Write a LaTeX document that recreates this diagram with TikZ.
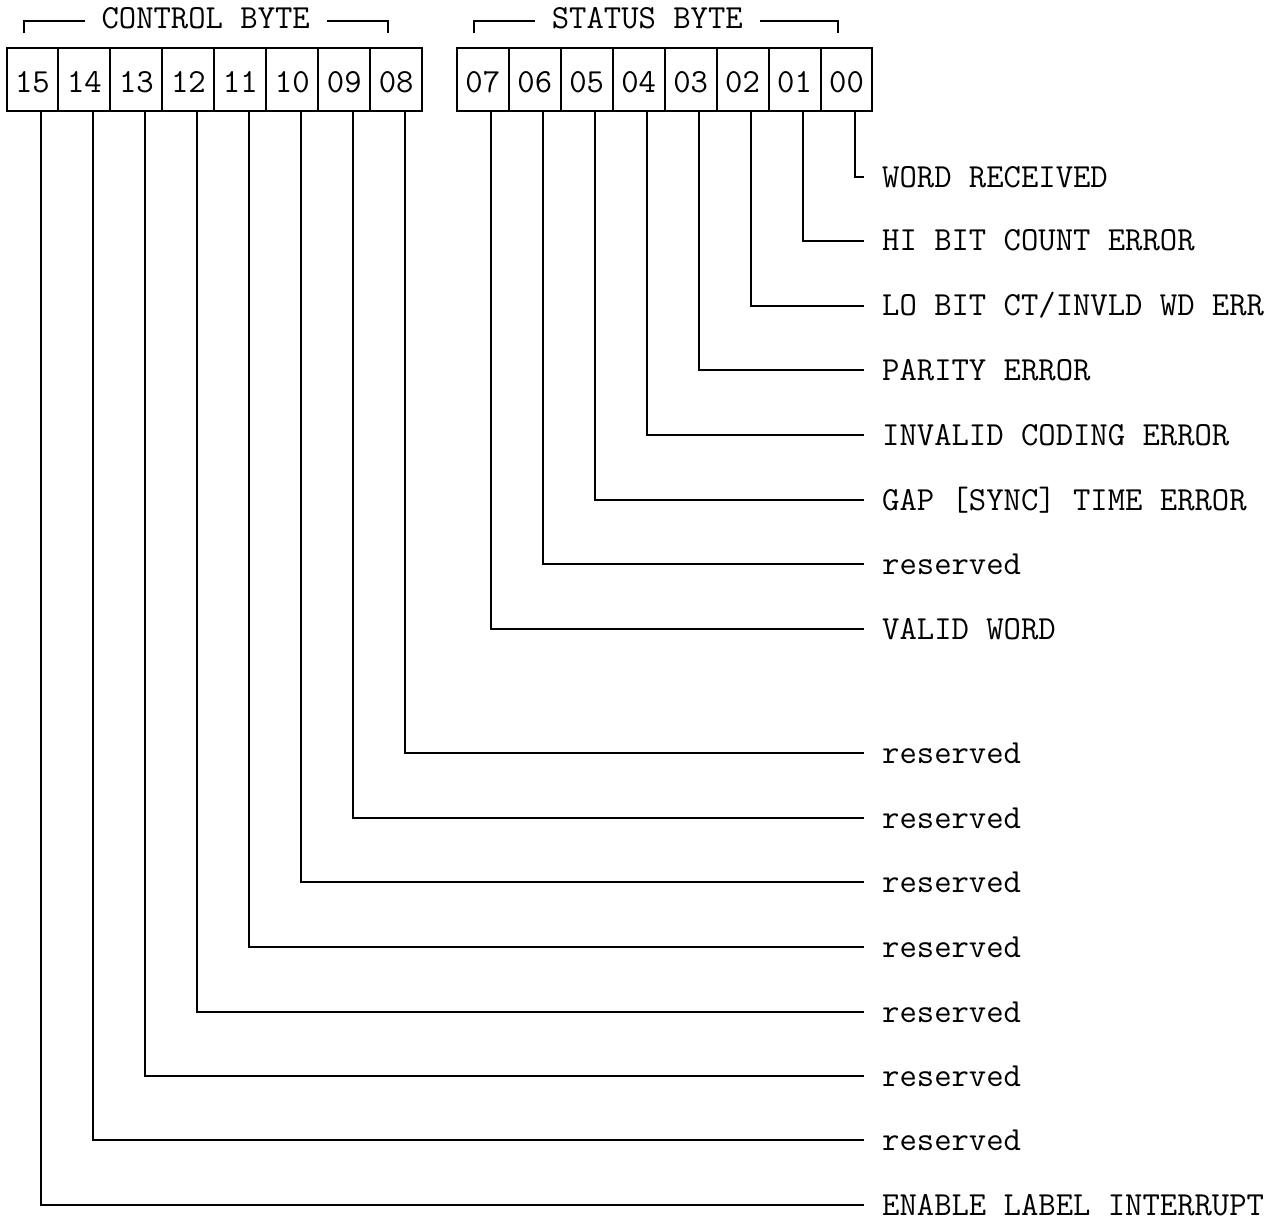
\documentclass[tikz,border=0pt]{standalone}
\usepackage{fontspec}
\newcommand{\dmfont}{\ttfamily\fontsize{33.7}{36}\selectfont}
\begin{document}
\begin{tikzpicture}[x=1pt,y=-1pt,line width=2pt,
  cell/.style={draw, minimum width=51.96pt, minimum height=63.3pt, inner sep=0pt, outer sep=0pt, text height=27.2pt, text depth=0pt, font=\dmfont},
  lbl/.style={anchor=base west, inner sep=0pt, font=\dmfont},
  ttl/.style={anchor=base, inner sep=0pt, font=\dmfont},
  wire/.style={line width=2pt}]
\useasboundingbox (0,0) rectangle (1269,1222);

% byte boxes
\foreach \b [count=\i from 0] in {15,14,13,12,11,10,09,08}
  \node[cell] (b\b) at ({6.5+51.96*(\i+0.5)},79.35) {\b};
\foreach \b [count=\i from 0] in {07,06,05,04,03,02,01,00}
  \node[cell] (b\b) at ({456.8+51.96*(\i+0.5)},79.35) {\b};

% titles
\node[ttl] (ctl) at (205.7,28.8) {CONTROL BYTE};
\node[ttl] (sts) at (647.3,28.8) {STATUS BYTE};
\coordinate (ca) at (23.8,33.5);  \coordinate (cb) at (84.5,20.7);
\coordinate (cc) at (327,20.7);   \coordinate (cd) at (387.5,33.5);
\coordinate (sa) at (474.1,33.5); \coordinate (sb) at (534.8,20.7);
\coordinate (sc) at (759.9,20.7); \coordinate (sd) at (837.9,33.5);
\draw[wire] (ca) |- (cb);
\draw[wire] (cc) -| (cd);
\draw[wire] (sa) |- (sb);
\draw[wire] (sc) -| (sd);

% line ends
\foreach \b/\y in {00/177.3,01/240.7,02/305.7,03/370,04/435,05/500,06/564,07/629.3,
                   08/753.3,09/817.7,10/882.3,11/946.7,12/1011.7,13/1076,14/1140,15/1205}
  \coordinate (e\b) at (863.9,\y);

% labels
\node[lbl] (l00) at (881.2,187.6) {WORD RECEIVED};
\node[lbl] (l01) at (881.2,251) {HI BIT COUNT ERROR};
\node[lbl] (l02) at (881.2,316) {LO BIT CT/INVLD WD ERR};
\node[lbl] (l03) at (881.2,380.3) {PARITY ERROR};
\node[lbl] (l04) at (881.2,445.3) {INVALID CODING ERROR};
\node[lbl] (l05) at (881.2,510.3) {GAP [SYNC] TIME ERROR};
\node[lbl] (l06) at (881.2,574.3) {reserved};
\node[lbl] (l07) at (881.2,639.6) {VALID WORD};
\node[lbl] (l08) at (881.2,763.6) {reserved};
\node[lbl] (l09) at (881.2,828) {reserved};
\node[lbl] (l10) at (881.2,892.6) {reserved};
\node[lbl] (l11) at (881.2,957) {reserved};
\node[lbl] (l12) at (881.2,1022) {reserved};
\node[lbl] (l13) at (881.2,1086.3) {reserved};
\node[lbl] (l14) at (881.2,1150.3) {reserved};
\node[lbl] (l15) at (881.2,1215.3) {ENABLE LABEL INTERRUPT};

% connectors
\foreach \b in {00,01,02,03,04,05,06,07,08,09,10,11,12,13,14,15}
  \draw[wire] ([xshift=8.66pt]b\b.south) |- (e\b);
\end{tikzpicture}
\end{document}
